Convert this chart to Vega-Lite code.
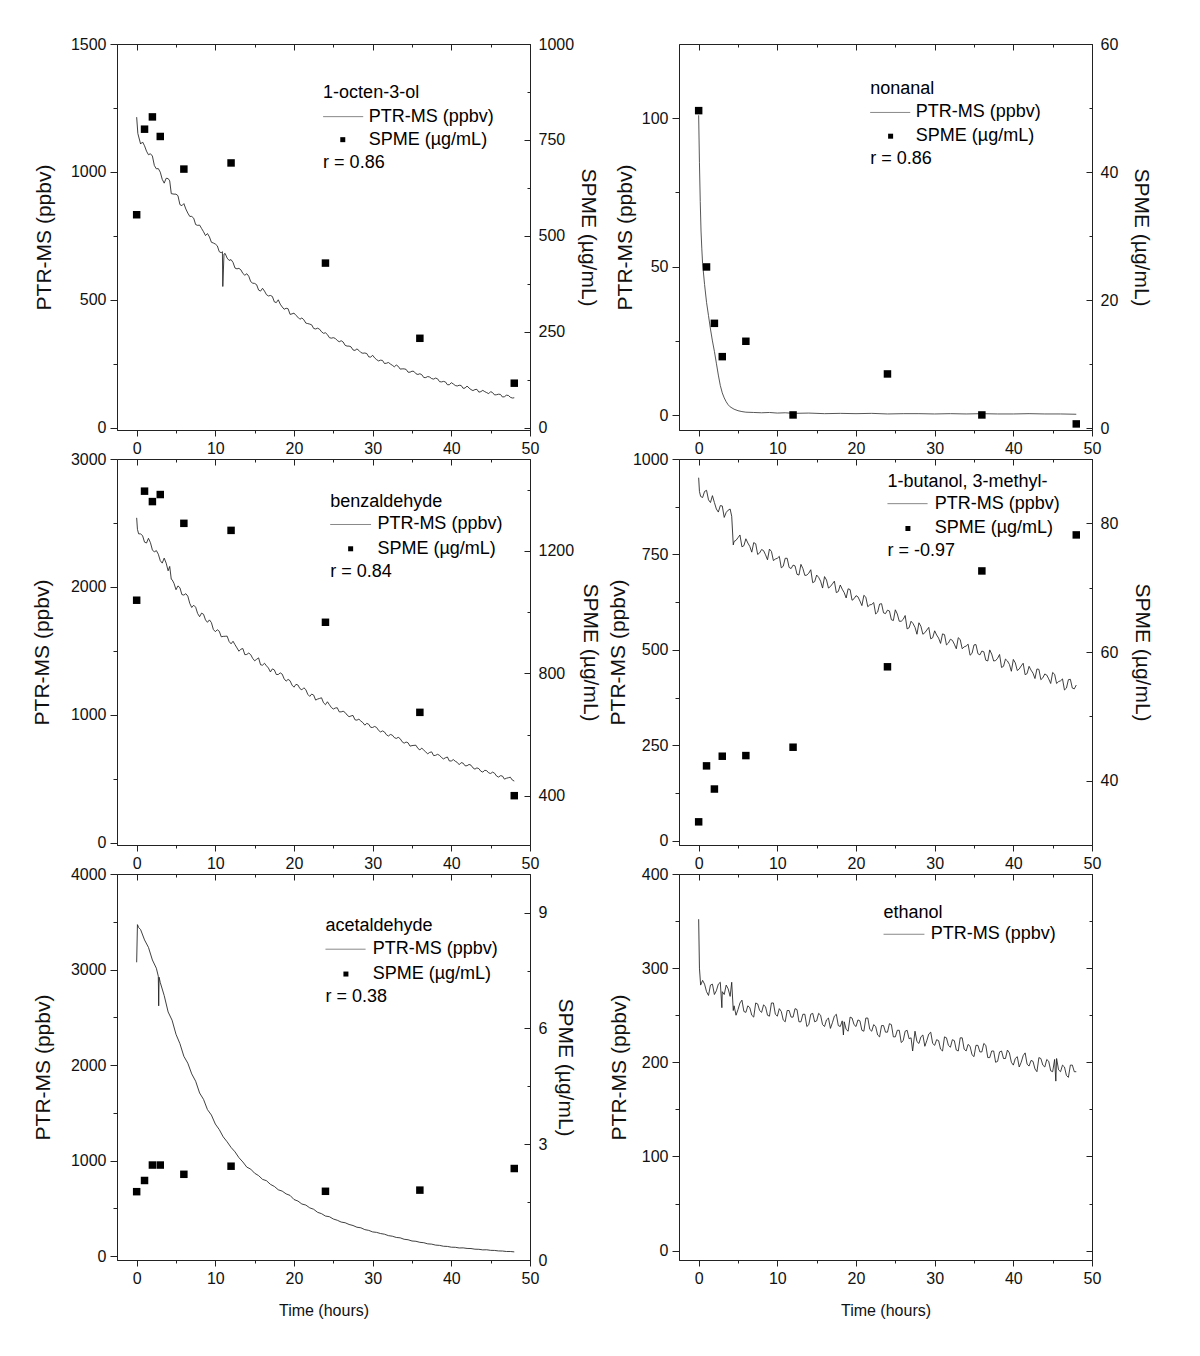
{
"$schema":"https://vega.github.io/schema/vega-lite/v6.json",
"background":"white",
"padding":{"left":30,"top":35,"right":5,"bottom":5},
"config":{
 "font":"Liberation Sans",
 "view":{"stroke":"#222","strokeWidth":1},
 "axis":{"grid":false,"domainColor":"#222","tickColor":"#222","labelColor":"#111","titleColor":"#111","labelFont":"Liberation Sans","titleFont":"Liberation Sans","labelFontSize":16,"titleFontSize":21,"titleFontWeight":"normal","labelFlush":false,"labelOverlap":false,"domainWidth":1,"tickWidth":1}
},
"datasets":{
"oct":[{"t":0,"v":1214},{"t":0.15,"v":1150},{"t":0.5,"v":1109},{"t":1,"v":1102},{"t":1.5,"v":1067},{"t":2,"v":1062},{"t":2.5,"v":1012},{"t":3,"v":999},{"t":3.5,"v":956},{"t":4,"v":974},{"t":4.2,"v":965},{"t":4.4,"v":915},{"t":5,"v":913},{"t":5.5,"v":872},{"t":6,"v":876},{"t":6.5,"v":839},{"t":7,"v":826},{"t":7.5,"v":794},{"t":8,"v":792},{"t":8.5,"v":766},{"t":9,"v":759},{"t":9.5,"v":725},{"t":10,"v":718},{"t":10.5,"v":688},{"t":10.9,"v":688},{"t":10.95,"v":552},{"t":11.1,"v":679},{"t":11.5,"v":663},{"t":12,"v":657},{"t":12.5,"v":624},{"t":13,"v":623},{"t":13.5,"v":603},{"t":14,"v":602},{"t":14.5,"v":571},{"t":15,"v":564},{"t":15.5,"v":538},{"t":16,"v":545},{"t":16.5,"v":520},{"t":17,"v":517},{"t":17.5,"v":492},{"t":18,"v":500},{"t":18.5,"v":472},{"t":19,"v":467},{"t":19.5,"v":443},{"t":20,"v":448},{"t":20.5,"v":432},{"t":21,"v":429},{"t":21.5,"v":409},{"t":22,"v":405},{"t":22.5,"v":388},{"t":23,"v":389},{"t":23.5,"v":375},{"t":24,"v":371},{"t":24.5,"v":352},{"t":25,"v":352},{"t":25.5,"v":341},{"t":26,"v":340},{"t":26.5,"v":322},{"t":27,"v":319},{"t":27.5,"v":304},{"t":28,"v":308},{"t":28.5,"v":294},{"t":29,"v":292},{"t":29.5,"v":277},{"t":30,"v":283},{"t":30.5,"v":266},{"t":31,"v":264},{"t":31.5,"v":251},{"t":32,"v":255},{"t":32.5,"v":244},{"t":33,"v":245},{"t":33.5,"v":229},{"t":34,"v":230},{"t":34.5,"v":217},{"t":35,"v":221},{"t":35.5,"v":211},{"t":36,"v":211},{"t":36.5,"v":196},{"t":37,"v":200},{"t":37.5,"v":192},{"t":38,"v":194},{"t":38.5,"v":180},{"t":39,"v":181},{"t":39.5,"v":168},{"t":40,"v":176},{"t":40.5,"v":165},{"t":41,"v":166},{"t":41.5,"v":154},{"t":42,"v":163},{"t":42.5,"v":149},{"t":43,"v":149},{"t":43.5,"v":139},{"t":44,"v":146},{"t":44.5,"v":137},{"t":45,"v":141},{"t":45.5,"v":128},{"t":46,"v":131},{"t":46.5,"v":120},{"t":47,"v":127},{"t":47.5,"v":119},{"t":48,"v":117},
{"t":0.75,"v":1117},{"t":1.25,"v":1081},{"t":1.75,"v":1071},{"t":2.25,"v":1025},{"t":2.75,"v":1013},{"t":3.25,"v":971},{"t":3.75,"v":975},{"t":4.75,"v":913},{"t":5.25,"v":907},{"t":5.75,"v":868},{"t":6.25,"v":855},{"t":6.75,"v":826},{"t":7.25,"v":819},{"t":7.75,"v":791},{"t":8.25,"v":779},{"t":8.75,"v":751},{"t":9.25,"v":746},{"t":9.75,"v":722},{"t":10.25,"v":711},{"t":10.75,"v":684},{"t":11.25,"v":681},{"t":11.75,"v":654},{"t":12.25,"v":646},{"t":12.75,"v":621},{"t":13.25,"v":617},{"t":13.75,"v":596},{"t":14.25,"v":592},{"t":14.75,"v":565},{"t":15.25,"v":559},{"t":15.75,"v":534},{"t":16.25,"v":534},{"t":16.75,"v":515},{"t":17.25,"v":513},{"t":17.75,"v":489},{"t":18.25,"v":483},{"t":18.75,"v":463},{"t":19.25,"v":465},{"t":19.75,"v":445},{"t":20.25,"v":439},{"t":20.75,"v":424},{"t":21.25,"v":422},{"t":21.75,"v":407},{"t":22.25,"v":402},{"t":22.75,"v":386},{"t":23.25,"v":385},{"t":23.75,"v":369},{"t":24.25,"v":364},{"t":24.75,"v":350},{"t":25.25,"v":349},{"t":25.75,"v":336},{"t":26.25,"v":335},{"t":26.75,"v":319},{"t":27.25,"v":316},{"t":27.75,"v":302},{"t":28.25,"v":302},{"t":28.75,"v":291},{"t":29.25,"v":290},{"t":29.75,"v":276},{"t":30.25,"v":273},{"t":30.75,"v":261},{"t":31.25,"v":263},{"t":31.75,"v":252},{"t":32.25,"v":249},{"t":32.75,"v":238},{"t":33.25,"v":240},{"t":33.75,"v":230},{"t":34.25,"v":228},{"t":34.75,"v":217},{"t":35.25,"v":220},{"t":35.75,"v":208},{"t":36.25,"v":207},{"t":36.75,"v":196},{"t":37.25,"v":198},{"t":37.75,"v":190},{"t":38.25,"v":191},{"t":38.75,"v":179},{"t":39.25,"v":179},{"t":39.75,"v":168},{"t":40.25,"v":171},{"t":40.75,"v":163},{"t":41.25,"v":165},{"t":41.75,"v":155},{"t":42.25,"v":155},{"t":42.75,"v":145},{"t":43.25,"v":150},{"t":43.75,"v":141},{"t":44.25,"v":141},{"t":44.75,"v":133},{"t":45.25,"v":137},{"t":45.75,"v":129},{"t":46.25,"v":130},{"t":46.75,"v":121},{"t":47.25,"v":126},{"t":47.75,"v":116}],
"oct_s":[{"t":0,"s":555},{"t":1,"s":778},{"t":2,"s":810},{"t":3,"s":759},{"t":6,"s":674},{"t":12,"s":690},{"t":24,"s":429},{"t":36,"s":233},{"t":48,"s":116}],
"non":[{"t":0,"v":101},{"t":0.1,"v":85},{"t":0.2,"v":72},{"t":0.3,"v":62},{"t":0.4,"v":56},{"t":0.5,"v":51},{"t":0.75,"v":44},{"t":1,"v":38},{"t":1.25,"v":33.5},{"t":1.5,"v":29},{"t":1.75,"v":25},{"t":2,"v":21.5},{"t":2.25,"v":17.5},{"t":2.5,"v":13.5},{"t":2.75,"v":10},{"t":3,"v":7.5},{"t":3.25,"v":5.8},{"t":3.5,"v":4.5},{"t":3.75,"v":3.5},{"t":4,"v":2.8},{"t":4.5,"v":2.0},{"t":5,"v":1.5},{"t":5.5,"v":1.2},{"t":6,"v":1.0},{"t":7,"v":0.9},{"t":8,"v":0.8},{"t":9,"v":0.9},{"t":10,"v":0.7},{"t":11,"v":0.8},{"t":12,"v":0.6},{"t":14,"v":0.7},{"t":16,"v":0.5},{"t":18,"v":0.6},{"t":20,"v":0.5},{"t":22,"v":0.6},{"t":24,"v":0.4},{"t":26,"v":0.5},{"t":28,"v":0.5},{"t":30,"v":0.4},{"t":32,"v":0.5},{"t":34,"v":0.4},{"t":36,"v":0.5},{"t":38,"v":0.4},{"t":40,"v":0.4},{"t":42,"v":0.5},{"t":44,"v":0.4},{"t":46,"v":0.4},{"t":48,"v":0.3}],
"non_s":[{"t":0,"s":49.6},{"t":1,"s":25.2},{"t":2,"s":16.4},{"t":3,"s":11.2},{"t":6,"s":13.6},{"t":12,"s":2.1},{"t":24,"s":8.5},{"t":36,"s":2.1},{"t":48,"s":0.7}],
"ben":[{"t":0,"v":2540},{"t":0.1,"v":2450},{"t":0.5,"v":2414},{"t":1,"v":2350},{"t":1.5,"v":2380},{"t":2,"v":2289},{"t":2.5,"v":2284},{"t":3,"v":2205},{"t":3.5,"v":2225},{"t":4,"v":2126},{"t":4.2,"v":2160},{"t":4.4,"v":2060},{"t":4.5,"v":2057},{"t":5,"v":1978},{"t":5.5,"v":1993},{"t":6,"v":1936},{"t":6.5,"v":1928},{"t":7,"v":1839},{"t":7.5,"v":1841},{"t":8,"v":1767},{"t":8.5,"v":1786},{"t":9,"v":1723},{"t":9.5,"v":1721},{"t":10,"v":1650},{"t":10.5,"v":1653},{"t":11,"v":1613},{"t":11.5,"v":1615},{"t":12,"v":1555},{"t":12.5,"v":1548},{"t":13,"v":1497},{"t":13.5,"v":1518},{"t":14,"v":1472},{"t":14.5,"v":1470},{"t":15,"v":1422},{"t":15.5,"v":1445},{"t":16,"v":1388},{"t":16.5,"v":1383},{"t":17,"v":1335},{"t":17.5,"v":1351},{"t":18,"v":1315},{"t":18.5,"v":1318},{"t":19,"v":1263},{"t":19.5,"v":1266},{"t":20,"v":1216},{"t":20.5,"v":1233},{"t":21,"v":1195},{"t":21.5,"v":1197},{"t":22,"v":1144},{"t":22.5,"v":1154},{"t":23,"v":1123},{"t":23.5,"v":1133},{"t":24,"v":1079},{"t":24.5,"v":1079},{"t":25,"v":1045},{"t":25.5,"v":1055},{"t":26,"v":1023},{"t":26.5,"v":1018},{"t":27,"v":985},{"t":27.5,"v":995},{"t":28,"v":958},{"t":28.5,"v":951},{"t":29,"v":919},{"t":29.5,"v":926},{"t":30,"v":901},{"t":30.5,"v":901},{"t":31,"v":866},{"t":31.5,"v":866},{"t":32,"v":834},{"t":32.5,"v":841},{"t":33,"v":815},{"t":33.5,"v":813},{"t":34,"v":778},{"t":34.5,"v":781},{"t":35,"v":759},{"t":35.5,"v":762},{"t":36,"v":726},{"t":36.5,"v":724},{"t":37,"v":695},{"t":37.5,"v":710},{"t":38,"v":683},{"t":38.5,"v":683},{"t":39,"v":655},{"t":39.5,"v":670},{"t":40,"v":639},{"t":40.5,"v":637},{"t":41,"v":610},{"t":41.5,"v":622},{"t":42,"v":602},{"t":42.5,"v":606},{"t":43,"v":575},{"t":43.5,"v":579},{"t":44,"v":552},{"t":44.5,"v":563},{"t":45,"v":541},{"t":45.5,"v":543},{"t":46,"v":513},{"t":46.5,"v":521},{"t":47,"v":504},{"t":47.5,"v":512},{"t":48,"v":482},
{"t":0.25,"v":2415},{"t":0.75,"v":2401},{"t":1.25,"v":2343},{"t":1.75,"v":2346},{"t":2.25,"v":2273},{"t":2.75,"v":2256},{"t":3.25,"v":2186},{"t":3.75,"v":2186},{"t":4.75,"v":2027},{"t":5.25,"v":2008},{"t":5.75,"v":1940},{"t":6.25,"v":1947},{"t":6.75,"v":1871},{"t":7.25,"v":1857},{"t":7.75,"v":1792},{"t":8.25,"v":1795},{"t":8.75,"v":1742},{"t":9.25,"v":1742},{"t":9.75,"v":1667},{"t":10.25,"v":1665},{"t":10.75,"v":1610},{"t":11.25,"v":1614},{"t":11.75,"v":1573},{"t":12.25,"v":1575},{"t":12.75,"v":1523},{"t":13.25,"v":1513},{"t":13.75,"v":1470},{"t":14.25,"v":1483},{"t":14.75,"v":1441},{"t":15.25,"v":1434},{"t":15.75,"v":1391},{"t":16.25,"v":1403},{"t":16.75,"v":1366},{"t":17.25,"v":1359},{"t":17.75,"v":1315},{"t":18.25,"v":1328},{"t":18.75,"v":1281},{"t":19.25,"v":1277},{"t":19.75,"v":1232},{"t":20.25,"v":1238},{"t":20.75,"v":1205},{"t":21.25,"v":1211},{"t":21.75,"v":1160},{"t":22.25,"v":1162},{"t":22.75,"v":1115},{"t":23.25,"v":1128},{"t":23.75,"v":1094},{"t":24.25,"v":1102},{"t":24.75,"v":1057},{"t":25.25,"v":1053},{"t":25.75,"v":1023},{"t":26.25,"v":1028},{"t":26.75,"v":998},{"t":27.25,"v":991},{"t":27.75,"v":961},{"t":28.25,"v":966},{"t":28.75,"v":939},{"t":29.25,"v":933},{"t":29.75,"v":902},{"t":30.25,"v":909},{"t":30.75,"v":878},{"t":31.25,"v":874},{"t":31.75,"v":844},{"t":32.25,"v":846},{"t":32.75,"v":822},{"t":33.25,"v":824},{"t":33.75,"v":789},{"t":34.25,"v":787},{"t":34.75,"v":755},{"t":35.25,"v":761},{"t":35.75,"v":737},{"t":36.25,"v":739},{"t":36.75,"v":709},{"t":37.25,"v":706},{"t":37.75,"v":681},{"t":38.25,"v":691},{"t":38.75,"v":666},{"t":39.25,"v":664},{"t":39.75,"v":639},{"t":40.25,"v":650},{"t":40.75,"v":628},{"t":41.25,"v":626},{"t":41.75,"v":601},{"t":42.25,"v":612},{"t":42.75,"v":585},{"t":43.25,"v":585},{"t":43.75,"v":559},{"t":44.25,"v":566},{"t":44.75,"v":546},{"t":45.25,"v":552},{"t":45.75,"v":521},{"t":46.25,"v":524},{"t":46.75,"v":497},{"t":47.25,"v":508},{"t":47.75,"v":490}],
"ben_s":[{"t":0,"s":1039},{"t":1,"s":1395},{"t":2,"s":1361},{"t":3,"s":1384},{"t":6,"s":1290},{"t":12,"s":1267},{"t":24,"s":967},{"t":36,"s":673},{"t":48,"s":401}],
"but":[{"t":0,"v":951},{"t":0.1,"v":915},{"t":0.5,"v":899},{"t":1,"v":918},{"t":1.5,"v":886},{"t":2,"v":886},{"t":2.5,"v":861},{"t":3,"v":877},{"t":3.5,"v":860},{"t":4,"v":869},{"t":4.2,"v":850},{"t":4.4,"v":775},{"t":4.5,"v":784},{"t":5,"v":794},{"t":5.5,"v":770},{"t":6,"v":791},{"t":6.5,"v":771},{"t":7,"v":781},{"t":7.5,"v":750},{"t":8,"v":763},{"t":8.5,"v":749},{"t":9,"v":764},{"t":9.5,"v":734},{"t":10,"v":740},{"t":10.5,"v":715},{"t":11,"v":740},{"t":11.5,"v":716},{"t":12,"v":722},{"t":12.5,"v":698},{"t":13,"v":724},{"t":13.5,"v":695},{"t":14,"v":701},{"t":14.5,"v":676},{"t":15,"v":696},{"t":15.5,"v":680},{"t":16,"v":692},{"t":16.5,"v":662},{"t":17,"v":673},{"t":17.5,"v":650},{"t":18,"v":670},{"t":18.5,"v":650},{"t":19,"v":660},{"t":19.5,"v":630},{"t":20,"v":642},{"t":20.5,"v":628},{"t":21,"v":643},{"t":21.5,"v":613},{"t":22,"v":619},{"t":22.5,"v":594},{"t":23,"v":620},{"t":23.5,"v":597},{"t":24,"v":604},{"t":24.5,"v":579},{"t":25,"v":605},{"t":25.5,"v":575},{"t":26,"v":580},{"t":26.5,"v":555},{"t":27,"v":575},{"t":27.5,"v":559},{"t":28,"v":571},{"t":28.5,"v":541},{"t":29,"v":552},{"t":29.5,"v":529},{"t":30,"v":550},{"t":30.5,"v":531},{"t":31,"v":542},{"t":31.5,"v":513},{"t":32,"v":528},{"t":32.5,"v":515},{"t":33,"v":532},{"t":33.5,"v":503},{"t":34,"v":510},{"t":34.5,"v":486},{"t":35,"v":513},{"t":35.5,"v":490},{"t":36,"v":497},{"t":36.5,"v":473},{"t":37,"v":500},{"t":37.5,"v":471},{"t":38,"v":478},{"t":38.5,"v":454},{"t":39,"v":476},{"t":39.5,"v":462},{"t":40,"v":475},{"t":40.5,"v":446},{"t":41,"v":458},{"t":41.5,"v":435},{"t":42,"v":457},{"t":42.5,"v":439},{"t":43,"v":450},{"t":43.5,"v":422},{"t":44,"v":437},{"t":44.5,"v":424},{"t":45,"v":441},{"t":45.5,"v":412},{"t":46,"v":419},{"t":46.5,"v":395},{"t":47,"v":422},{"t":47.5,"v":400},{"t":48,"v":408},
{"t":0.25,"v":902},{"t":0.75,"v":915},{"t":1.25,"v":893},{"t":1.75,"v":904},{"t":2.25,"v":869},{"t":2.75,"v":878},{"t":3.25,"v":847},{"t":3.75,"v":866},{"t":4.75,"v":787},{"t":5.25,"v":801},{"t":5.75,"v":773},{"t":6.25,"v":780},{"t":6.75,"v":756},{"t":7.25,"v":778},{"t":7.75,"v":754},{"t":8.25,"v":760},{"t":8.75,"v":736},{"t":9.25,"v":758},{"t":9.75,"v":738},{"t":10.25,"v":745},{"t":10.75,"v":719},{"t":11.25,"v":740},{"t":11.75,"v":713},{"t":12.25,"v":720},{"t":12.75,"v":696},{"t":13.25,"v":713},{"t":13.75,"v":696},{"t":14.25,"v":710},{"t":14.75,"v":679},{"t":15.25,"v":690},{"t":15.75,"v":662},{"t":16.25,"v":683},{"t":16.75,"v":666},{"t":17.25,"v":680},{"t":17.75,"v":653},{"t":18.25,"v":659},{"t":18.75,"v":636},{"t":19.25,"v":658},{"t":19.75,"v":634},{"t":20.25,"v":639},{"t":20.75,"v":616},{"t":21.25,"v":638},{"t":21.75,"v":618},{"t":22.25,"v":624},{"t":22.75,"v":599},{"t":23.25,"v":621},{"t":23.75,"v":595},{"t":24.25,"v":602},{"t":24.75,"v":577},{"t":25.25,"v":594},{"t":25.75,"v":575},{"t":26.25,"v":590},{"t":26.75,"v":558},{"t":27.25,"v":569},{"t":27.75,"v":541},{"t":28.25,"v":562},{"t":28.75,"v":545},{"t":29.25,"v":559},{"t":29.75,"v":532},{"t":30.25,"v":539},{"t":30.75,"v":517},{"t":31.25,"v":540},{"t":31.75,"v":518},{"t":32.25,"v":525},{"t":32.75,"v":503},{"t":33.25,"v":527},{"t":33.75,"v":508},{"t":34.25,"v":515},{"t":34.75,"v":491},{"t":35.25,"v":514},{"t":35.75,"v":487},{"t":36.25,"v":495},{"t":36.75,"v":471},{"t":37.25,"v":489},{"t":37.75,"v":472},{"t":38.25,"v":488},{"t":38.75,"v":457},{"t":39.25,"v":471},{"t":39.75,"v":444},{"t":40.25,"v":466},{"t":40.75,"v":450},{"t":41.25,"v":465},{"t":41.75,"v":438},{"t":42.25,"v":447},{"t":42.75,"v":425},{"t":43.25,"v":449},{"t":43.75,"v":427},{"t":44.25,"v":434},{"t":44.75,"v":412},{"t":45.25,"v":436},{"t":45.75,"v":417},{"t":46.25,"v":424},{"t":46.75,"v":400},{"t":47.25,"v":423},{"t":47.75,"v":398}],
"but_s":[{"t":0,"s":33.6},{"t":1,"s":42.3},{"t":2,"s":38.7},{"t":3,"s":43.8},{"t":6,"s":43.9},{"t":12,"s":45.2},{"t":24,"s":57.7},{"t":36,"s":72.6},{"t":48,"s":78.2}],
"ace":[{"t":0,"v":3076},{"t":0.1,"v":3470},{"t":0.25,"v":3440},{"t":0.5,"v":3418},{"t":1,"v":3310},{"t":1.5,"v":3232},{"t":2,"v":3100},{"t":2.5,"v":3014},{"t":2.75,"v":2930},{"t":2.8,"v":2620},{"t":2.85,"v":2920},{"t":3,"v":2864},{"t":3.5,"v":2728},{"t":4,"v":2556},{"t":4.5,"v":2470},{"t":5,"v":2322},{"t":5.5,"v":2224},{"t":6,"v":2092},{"t":6.5,"v":2020},{"t":7,"v":1908},{"t":7.5,"v":1831},{"t":8,"v":1708},{"t":8.5,"v":1641},{"t":9,"v":1534},{"t":9.5,"v":1477},{"t":10,"v":1383},{"t":10.5,"v":1325},{"t":11,"v":1249},{"t":11.5,"v":1197},{"t":12,"v":1138},{"t":12.5,"v":1092},{"t":13,"v":1031},{"t":13.5,"v":986},{"t":14,"v":932},{"t":14.5,"v":911},{"t":15,"v":868},{"t":15.5,"v":843},{"t":16,"v":804},{"t":16.5,"v":790},{"t":17,"v":752},{"t":17.5,"v":730},{"t":18,"v":695},{"t":18.5,"v":681},{"t":19,"v":652},{"t":19.5,"v":636},{"t":20,"v":593},{"t":20.5,"v":577},{"t":21,"v":546},{"t":21.5,"v":535},{"t":22,"v":506},{"t":22.5,"v":491},{"t":23,"v":459},{"t":23.5,"v":445},{"t":24,"v":420},{"t":24.5,"v":413},{"t":25,"v":389},{"t":25.5,"v":376},{"t":26,"v":357},{"t":26.5,"v":350},{"t":27,"v":332},{"t":27.5,"v":321},{"t":28,"v":303},{"t":28.5,"v":297},{"t":29,"v":278},{"t":29.5,"v":270},{"t":30,"v":254},{"t":30.5,"v":249},{"t":31,"v":237},{"t":31.5,"v":230},{"t":32,"v":215},{"t":32.5,"v":209},{"t":33,"v":196},{"t":33.5,"v":192},{"t":34,"v":177},{"t":34.5,"v":172},{"t":35,"v":159},{"t":35.5,"v":156},{"t":36,"v":145},{"t":36.5,"v":141},{"t":37,"v":129},{"t":37.5,"v":126},{"t":38,"v":116},{"t":38.5,"v":113},{"t":39,"v":104},{"t":39.5,"v":102},{"t":40,"v":94},{"t":40.5,"v":93},{"t":41,"v":86},{"t":41.5,"v":87},{"t":42,"v":81},{"t":42.5,"v":80},{"t":43,"v":73},{"t":43.5,"v":72},{"t":44,"v":66},{"t":44.5,"v":67},{"t":45,"v":61},{"t":45.5,"v":60},{"t":46,"v":55},{"t":46.5,"v":54},{"t":47,"v":49},{"t":47.5,"v":49},{"t":48,"v":45}],
"ace_s":[{"t":0,"s":1.77},{"t":1,"s":2.06},{"t":2,"s":2.46},{"t":3,"s":2.46},{"t":6,"s":2.22},{"t":12,"s":2.43},{"t":24,"s":1.78},{"t":36,"s":1.81},{"t":48,"s":2.37}],
"eth":[{"t":0,"v":352},{"t":0.1,"v":300},{"t":0.25,"v":282},{"t":0.5,"v":287},{"t":1,"v":275},{"t":1.5,"v":282},{"t":2,"v":272},{"t":2.5,"v":283},{"t":2.95,"v":258},{"t":3,"v":275},{"t":3.5,"v":282},{"t":4,"v":270},{"t":4.2,"v":285},{"t":4.4,"v":255},{"t":4.5,"v":260},{"t":5,"v":256},{"t":5.5,"v":266},{"t":6,"v":253},{"t":6.5,"v":258},{"t":7,"v":248},{"t":7.5,"v":262},{"t":8,"v":253},{"t":8.5,"v":259},{"t":9,"v":249},{"t":9.5,"v":263},{"t":10,"v":249},{"t":10.5,"v":254},{"t":11,"v":243},{"t":11.5,"v":255},{"t":12,"v":248},{"t":12.5,"v":256},{"t":13,"v":243},{"t":13.5,"v":251},{"t":14,"v":240},{"t":14.5,"v":252},{"t":15,"v":244},{"t":15.5,"v":250},{"t":16,"v":238},{"t":16.5,"v":247},{"t":17,"v":242},{"t":17.5,"v":251},{"t":18,"v":238},{"t":18.4,"v":229},{"t":18.5,"v":243},{"t":19,"v":233},{"t":19.5,"v":247},{"t":20,"v":238},{"t":20.5,"v":244},{"t":21,"v":233},{"t":21.5,"v":247},{"t":22,"v":233},{"t":22.5,"v":238},{"t":23,"v":227},{"t":23.5,"v":239},{"t":24,"v":232},{"t":24.5,"v":240},{"t":25,"v":227},{"t":25.5,"v":234},{"t":26,"v":223},{"t":26.5,"v":234},{"t":27,"v":226},{"t":27.2,"v":212},{"t":27.5,"v":233},{"t":28,"v":220},{"t":28.5,"v":229},{"t":29,"v":223},{"t":29.5,"v":232},{"t":30,"v":218},{"t":30.5,"v":223},{"t":31,"v":212},{"t":31.5,"v":226},{"t":32,"v":216},{"t":32.5,"v":223},{"t":33,"v":212},{"t":33.5,"v":226},{"t":34,"v":212},{"t":34.5,"v":217},{"t":35,"v":206},{"t":35.5,"v":218},{"t":36,"v":211},{"t":36.5,"v":218},{"t":37,"v":205},{"t":37.5,"v":212},{"t":38,"v":201},{"t":38.5,"v":212},{"t":39,"v":204},{"t":39.5,"v":210},{"t":40,"v":197},{"t":40.5,"v":206},{"t":41,"v":200},{"t":41.5,"v":210},{"t":42,"v":196},{"t":42.5,"v":201},{"t":43,"v":190},{"t":43.5,"v":204},{"t":44,"v":195},{"t":44.5,"v":201},{"t":45,"v":190},{"t":45.4,"v":180},{"t":45.5,"v":204},{"t":46,"v":190},{"t":46.5,"v":195},{"t":47,"v":184},{"t":47.5,"v":197},{"t":48,"v":190},
{"t":0.75,"v":283},{"t":1.25,"v":271},{"t":1.75,"v":283},{"t":2.25,"v":276},{"t":2.75,"v":285},{"t":3.25,"v":272},{"t":3.75,"v":278},{"t":4.75,"v":250},{"t":5.25,"v":263},{"t":5.75,"v":254},{"t":6.25,"v":260},{"t":6.75,"v":250},{"t":7.25,"v":263},{"t":7.75,"v":255},{"t":8.25,"v":261},{"t":8.75,"v":250},{"t":9.25,"v":263},{"t":9.75,"v":251},{"t":10.25,"v":257},{"t":10.75,"v":245},{"t":11.25,"v":255},{"t":11.75,"v":248},{"t":12.25,"v":257},{"t":12.75,"v":243},{"t":13.25,"v":251},{"t":13.75,"v":238},{"t":14.25,"v":251},{"t":14.75,"v":243},{"t":15.25,"v":252},{"t":15.75,"v":240},{"t":16.25,"v":245},{"t":16.75,"v":236},{"t":17.25,"v":249},{"t":17.75,"v":239},{"t":18.25,"v":244},{"t":18.75,"v":235},{"t":19.25,"v":248},{"t":19.75,"v":240},{"t":20.25,"v":245},{"t":20.75,"v":234},{"t":21.25,"v":247},{"t":21.75,"v":235},{"t":22.25,"v":240},{"t":22.75,"v":229},{"t":23.25,"v":239},{"t":23.75,"v":232},{"t":24.25,"v":241},{"t":24.75,"v":227},{"t":25.25,"v":234},{"t":25.75,"v":221},{"t":26.25,"v":233},{"t":26.75,"v":225},{"t":27.75,"v":222},{"t":28.25,"v":227},{"t":28.75,"v":217},{"t":29.25,"v":230},{"t":29.75,"v":220},{"t":30.25,"v":224},{"t":30.75,"v":214},{"t":31.25,"v":227},{"t":31.75,"v":218},{"t":32.25,"v":224},{"t":32.75,"v":213},{"t":33.25,"v":226},{"t":33.75,"v":214},{"t":34.25,"v":219},{"t":34.75,"v":208},{"t":35.25,"v":218},{"t":35.75,"v":211},{"t":36.25,"v":220},{"t":36.75,"v":205},{"t":37.25,"v":212},{"t":37.75,"v":200},{"t":38.25,"v":211},{"t":38.75,"v":204},{"t":39.25,"v":213},{"t":39.75,"v":200},{"t":40.25,"v":204},{"t":40.75,"v":195},{"t":41.25,"v":207},{"t":41.75,"v":198},{"t":42.25,"v":202},{"t":42.75,"v":193},{"t":43.25,"v":205},{"t":43.75,"v":197},{"t":44.25,"v":203},{"t":44.75,"v":191},{"t":45.25,"v":203},{"t":45.75,"v":192},{"t":46.25,"v":197},{"t":46.75,"v":186},{"t":47.25,"v":197},{"t":47.75,"v":190}]
},
"columns":2,
"spacing":{"row":29,"column":149},
"bounds":"flush",
"concat":[
 {"width":413,"height":386,
  "layer":[
   {"data":{"name":"oct"},"mark":{"type":"line","color":"#1e1e1e","strokeWidth":0.85},
    "encoding":{
     "x":{"field":"t","type":"quantitative","scale":{"domain":[-2.5,50],"nice":false,"zero":false},"axis":{"orient":"bottom","values":[0,5,10,15,20,25,30,35,40,45,50],"labelExpr":"datum.value % 10 === 0 ? datum.label : ''","tickSize":6,"tickDash":{"condition":{"test":"datum.value % 10 === 0","value":[6,0]},"value":[3,10]},"labelPadding":4,"title":null,"format":"d"}},
     "y":{"field":"v","type":"quantitative","scale":{"domain":[-9,1500],"nice":false,"zero":false},"axis":{"orient":"left","values":[0,250,500,750,1000,1250,1500],"labelExpr":"datum.value % 500 === 0 ? datum.label : ''","tickSize":7,"tickDash":{"condition":{"test":"datum.value % 500 === 0","value":[7,0]},"value":[4,10]},"labelPadding":4,"title":"PTR-MS (ppbv)","titlePadding":16,"format":"d"}}}},
   {"data":{"name":"oct_s"},"mark":{"type":"square","size":56,"color":"#000","opacity":1},
    "encoding":{
     "x":{"field":"t","type":"quantitative","axis":{"orient":"top","values":[0,5,10,15,20,25,30,35,40,45,50],"labels":false,"domain":false,"title":null,"tickSize":-6,"tickDash":{"condition":{"test":"datum.value % 10 === 0","value":[6,0]},"value":[3,10]}}},
     "y":{"field":"s","type":"quantitative","scale":{"domain":[-6,1000],"nice":false,"zero":false},"axis":{"orient":"right","values":[0,125,250,375,500,625,750,875,1000],"labelExpr":"datum.value % 250 === 0 ? datum.label : ''","tickSize":-6,"tickDash":{"condition":{"test":"datum.value % 250 === 0","value":[6,0]},"value":[3,10]},"labelPadding":14,"title":"SPME (µg/mL)","titlePadding":4,"format":"d"}}}},
   {"data":{"values":[{}]},"mark":{"type":"text","text":"1-octen-3-ol","align":"left","baseline":"middle","fontSize":18,"color":"#000"},"encoding":{"x":{"datum":23.7,"axis":null},"y":{"datum":1309,"axis":null,"scale":{"domain":[-9,1500],"nice":false,"zero":false}}}},
   {"data":{"values":[{}]},"mark":{"type":"rule","color":"#888","strokeWidth":1},"encoding":{"x":{"datum":23.7,"axis":null},"x2":{"datum":28.8},"y":{"datum":1216,"axis":null,"scale":{"domain":[-9,1500],"nice":false,"zero":false}}}},
   {"data":{"values":[{}]},"mark":{"type":"text","text":"PTR-MS (ppbv)","align":"left","baseline":"middle","fontSize":18,"color":"#000"},"encoding":{"x":{"datum":29.5,"axis":null},"y":{"datum":1216,"axis":null,"scale":{"domain":[-9,1500],"nice":false,"zero":false}}}},
   {"data":{"values":[{}]},"mark":{"type":"square","size":25,"color":"#000","opacity":1},"encoding":{"x":{"datum":26.2,"axis":null},"y":{"datum":1126,"axis":null,"scale":{"domain":[-9,1500],"nice":false,"zero":false}}}},
   {"data":{"values":[{}]},"mark":{"type":"text","text":"SPME (µg/mL)","align":"left","baseline":"middle","fontSize":18,"color":"#000"},"encoding":{"x":{"datum":29.5,"axis":null},"y":{"datum":1126,"axis":null,"scale":{"domain":[-9,1500],"nice":false,"zero":false}}}},
   {"data":{"values":[{}]},"mark":{"type":"text","text":"r = 0.86","align":"left","baseline":"middle","fontSize":18,"color":"#000"},"encoding":{"x":{"datum":23.7,"axis":null},"y":{"datum":1033,"axis":null,"scale":{"domain":[-9,1500],"nice":false,"zero":false}}}}
  ],
  "resolve":{"scale":{"y":"independent"},"axis":{"x":"independent"}}
 },
 {"width":413,"height":386,
  "layer":[
   {"data":{"name":"non"},"mark":{"type":"line","color":"#444","strokeWidth":0.9},
    "encoding":{
     "x":{"field":"t","type":"quantitative","scale":{"domain":[-2.5,50],"nice":false,"zero":false},"axis":{"orient":"bottom","values":[0,5,10,15,20,25,30,35,40,45,50],"labelExpr":"datum.value % 10 === 0 ? datum.label : ''","tickSize":6,"tickDash":{"condition":{"test":"datum.value % 10 === 0","value":[6,0]},"value":[3,10]},"labelPadding":4,"title":null,"format":"d"}},
     "y":{"field":"v","type":"quantitative","scale":{"domain":[-5,125],"nice":false,"zero":false},"axis":{"orient":"left","values":[0,25,50,75,100],"labelExpr":"datum.value % 50 === 0 ? datum.label : ''","tickSize":7,"tickDash":{"condition":{"test":"datum.value % 50 === 0","value":[7,0]},"value":[4,10]},"labelPadding":4,"title":"PTR-MS (ppbv)","titlePadding":6,"format":"d"}}}},
   {"data":{"name":"non_s"},"mark":{"type":"square","size":56,"color":"#000","opacity":1},
    "encoding":{
     "x":{"field":"t","type":"quantitative","axis":{"orient":"top","values":[0,5,10,15,20,25,30,35,40,45,50],"labels":false,"domain":false,"title":null,"tickSize":-6,"tickDash":{"condition":{"test":"datum.value % 10 === 0","value":[6,0]},"value":[3,10]}}},
     "y":{"field":"s","type":"quantitative","scale":{"domain":[-0.25,60],"nice":false,"zero":false},"axis":{"orient":"right","values":[0,10,20,30,40,50,60],"labelExpr":"datum.value % 20 === 0 ? datum.label : ''","tickSize":-6,"tickDash":{"condition":{"test":"datum.value % 20 === 0","value":[6,0]},"value":[3,10]},"labelPadding":14,"title":"SPME (µg/mL)","titlePadding":13,"format":"d"}}}},
   {"data":{"values":[{}]},"mark":{"type":"text","text":"nonanal","align":"left","baseline":"middle","fontSize":18,"color":"#000"},"encoding":{"x":{"datum":21.8,"axis":null},"y":{"datum":109.75,"axis":null,"scale":{"domain":[-5,125],"nice":false,"zero":false}}}},
   {"data":{"values":[{}]},"mark":{"type":"rule","color":"#888","strokeWidth":1},"encoding":{"x":{"datum":21.8,"axis":null},"x2":{"datum":26.9},"y":{"datum":101.95,"axis":null,"scale":{"domain":[-5,125],"nice":false,"zero":false}}}},
   {"data":{"values":[{}]},"mark":{"type":"text","text":"PTR-MS (ppbv)","align":"left","baseline":"middle","fontSize":18,"color":"#000"},"encoding":{"x":{"datum":27.6,"axis":null},"y":{"datum":101.95,"axis":null,"scale":{"domain":[-5,125],"nice":false,"zero":false}}}},
   {"data":{"values":[{}]},"mark":{"type":"square","size":25,"color":"#000","opacity":1},"encoding":{"x":{"datum":24.4,"axis":null},"y":{"datum":93.95,"axis":null,"scale":{"domain":[-5,125],"nice":false,"zero":false}}}},
   {"data":{"values":[{}]},"mark":{"type":"text","text":"SPME (µg/mL)","align":"left","baseline":"middle","fontSize":18,"color":"#000"},"encoding":{"x":{"datum":27.6,"axis":null},"y":{"datum":93.95,"axis":null,"scale":{"domain":[-5,125],"nice":false,"zero":false}}}},
   {"data":{"values":[{}]},"mark":{"type":"text","text":"r = 0.86","align":"left","baseline":"middle","fontSize":18,"color":"#000"},"encoding":{"x":{"datum":21.8,"axis":null},"y":{"datum":86.35,"axis":null,"scale":{"domain":[-5,125],"nice":false,"zero":false}}}}
  ],
  "resolve":{"scale":{"y":"independent"},"axis":{"x":"independent"}}
 },
 {"width":413,"height":386,
  "layer":[
   {"data":{"name":"ben"},"mark":{"type":"line","color":"#1e1e1e","strokeWidth":0.85},
    "encoding":{
     "x":{"field":"t","type":"quantitative","scale":{"domain":[-2.5,50],"nice":false,"zero":false},"axis":{"orient":"bottom","values":[0,5,10,15,20,25,30,35,40,45,50],"labelExpr":"datum.value % 10 === 0 ? datum.label : ''","tickSize":6,"tickDash":{"condition":{"test":"datum.value % 10 === 0","value":[6,0]},"value":[3,10]},"labelPadding":4,"title":null,"format":"d"}},
     "y":{"field":"v","type":"quantitative","scale":{"domain":[-18,3000],"nice":false,"zero":false},"axis":{"orient":"left","values":[0,500,1000,1500,2000,2500,3000],"labelExpr":"datum.value % 1000 === 0 ? datum.label : ''","tickSize":7,"tickDash":{"condition":{"test":"datum.value % 1000 === 0","value":[7,0]},"value":[4,10]},"labelPadding":4,"title":"PTR-MS (ppbv)","titlePadding":18,"format":"d"}}}},
   {"data":{"name":"ben_s"},"mark":{"type":"square","size":56,"color":"#000","opacity":1},
    "encoding":{
     "x":{"field":"t","type":"quantitative","axis":{"orient":"top","values":[0,5,10,15,20,25,30,35,40,45,50],"labels":false,"domain":false,"title":null,"tickSize":-6,"tickDash":{"condition":{"test":"datum.value % 10 === 0","value":[6,0]},"value":[3,10]}}},
     "y":{"field":"s","type":"quantitative","scale":{"domain":[240,1500],"nice":false,"zero":false},"axis":{"orient":"right","values":[400,600,800,1000,1200,1400],"labelExpr":"datum.value % 400 === 0 ? datum.label : ''","tickSize":-6,"tickDash":{"condition":{"test":"datum.value % 400 === 0","value":[6,0]},"value":[3,10]},"labelPadding":14,"title":"SPME (µg/mL)","titlePadding":6,"format":"d"}}}},
   {"data":{"values":[{}]},"mark":{"type":"text","text":"benzaldehyde","align":"left","baseline":"middle","fontSize":18,"color":"#000"},"encoding":{"x":{"datum":24.6,"axis":null},"y":{"datum":2666,"axis":null,"scale":{"domain":[-18,3000],"nice":false,"zero":false}}}},
   {"data":{"values":[{}]},"mark":{"type":"rule","color":"#888","strokeWidth":1},"encoding":{"x":{"datum":24.6,"axis":null},"x2":{"datum":29.8},"y":{"datum":2488,"axis":null,"scale":{"domain":[-18,3000],"nice":false,"zero":false}}}},
   {"data":{"values":[{}]},"mark":{"type":"text","text":"PTR-MS (ppbv)","align":"left","baseline":"middle","fontSize":18,"color":"#000"},"encoding":{"x":{"datum":30.6,"axis":null},"y":{"datum":2488,"axis":null,"scale":{"domain":[-18,3000],"nice":false,"zero":false}}}},
   {"data":{"values":[{}]},"mark":{"type":"square","size":25,"color":"#000","opacity":1},"encoding":{"x":{"datum":27.2,"axis":null},"y":{"datum":2298,"axis":null,"scale":{"domain":[-18,3000],"nice":false,"zero":false}}}},
   {"data":{"values":[{}]},"mark":{"type":"text","text":"SPME (µg/mL)","align":"left","baseline":"middle","fontSize":18,"color":"#000"},"encoding":{"x":{"datum":30.6,"axis":null},"y":{"datum":2298,"axis":null,"scale":{"domain":[-18,3000],"nice":false,"zero":false}}}},
   {"data":{"values":[{}]},"mark":{"type":"text","text":"r = 0.84","align":"left","baseline":"middle","fontSize":18,"color":"#000"},"encoding":{"x":{"datum":24.6,"axis":null},"y":{"datum":2115,"axis":null,"scale":{"domain":[-18,3000],"nice":false,"zero":false}}}}
  ],
  "resolve":{"scale":{"y":"independent"},"axis":{"x":"independent"}}
 },
 {"width":413,"height":386,
  "layer":[
   {"data":{"name":"but"},"mark":{"type":"line","color":"#1e1e1e","strokeWidth":0.85},
    "encoding":{
     "x":{"field":"t","type":"quantitative","scale":{"domain":[-2.5,50],"nice":false,"zero":false},"axis":{"orient":"bottom","values":[0,5,10,15,20,25,30,35,40,45,50],"labelExpr":"datum.value % 10 === 0 ? datum.label : ''","tickSize":6,"tickDash":{"condition":{"test":"datum.value % 10 === 0","value":[6,0]},"value":[3,10]},"labelPadding":4,"title":null,"format":"d"}},
     "y":{"field":"v","type":"quantitative","scale":{"domain":[-11,1000],"nice":false,"zero":false},"axis":{"orient":"left","values":[0,125,250,375,500,625,750,875,1000],"labelExpr":"datum.value % 250 === 0 ? datum.label : ''","tickSize":7,"tickDash":{"condition":{"test":"datum.value % 250 === 0","value":[7,0]},"value":[4,10]},"labelPadding":4,"title":"PTR-MS (ppbv)","titlePadding":4,"format":"d"}}}},
   {"data":{"name":"but_s"},"mark":{"type":"square","size":56,"color":"#000","opacity":1},
    "encoding":{
     "x":{"field":"t","type":"quantitative","axis":{"orient":"top","values":[0,5,10,15,20,25,30,35,40,45,50],"labels":false,"domain":false,"title":null,"tickSize":-6,"tickDash":{"condition":{"test":"datum.value % 10 === 0","value":[6,0]},"value":[3,10]}}},
     "y":{"field":"s","type":"quantitative","scale":{"domain":[30,90],"nice":false,"zero":false},"axis":{"orient":"right","values":[40,50,60,70,80,90],"labelExpr":"datum.value % 20 === 0 ? datum.label : ''","tickSize":-6,"tickDash":{"condition":{"test":"datum.value % 20 === 0","value":[6,0]},"value":[3,10]},"labelPadding":14,"title":"SPME (µg/mL)","titlePadding":14,"format":"d"}}}},
   {"data":{"values":[{}]},"mark":{"type":"text","text":"1-butanol, 3-methyl-","align":"left","baseline":"middle","fontSize":18,"color":"#000"},"encoding":{"x":{"datum":24.0,"axis":null},"y":{"datum":940,"axis":null,"scale":{"domain":[-11,1000],"nice":false,"zero":false}}}},
   {"data":{"values":[{}]},"mark":{"type":"rule","color":"#888","strokeWidth":1},"encoding":{"x":{"datum":24.0,"axis":null},"x2":{"datum":29.1},"y":{"datum":883,"axis":null,"scale":{"domain":[-11,1000],"nice":false,"zero":false}}}},
   {"data":{"values":[{}]},"mark":{"type":"text","text":"PTR-MS (ppbv)","align":"left","baseline":"middle","fontSize":18,"color":"#000"},"encoding":{"x":{"datum":30.0,"axis":null},"y":{"datum":883,"axis":null,"scale":{"domain":[-11,1000],"nice":false,"zero":false}}}},
   {"data":{"values":[{}]},"mark":{"type":"square","size":25,"color":"#000","opacity":1},"encoding":{"x":{"datum":26.6,"axis":null},"y":{"datum":818,"axis":null,"scale":{"domain":[-11,1000],"nice":false,"zero":false}}}},
   {"data":{"values":[{}]},"mark":{"type":"text","text":"SPME (µg/mL)","align":"left","baseline":"middle","fontSize":18,"color":"#000"},"encoding":{"x":{"datum":30.0,"axis":null},"y":{"datum":818,"axis":null,"scale":{"domain":[-11,1000],"nice":false,"zero":false}}}},
   {"data":{"values":[{}]},"mark":{"type":"text","text":"r = -0.97","align":"left","baseline":"middle","fontSize":18,"color":"#000"},"encoding":{"x":{"datum":24.0,"axis":null},"y":{"datum":760,"axis":null,"scale":{"domain":[-11,1000],"nice":false,"zero":false}}}}
  ],
  "resolve":{"scale":{"y":"independent"},"axis":{"x":"independent"}}
 },
 {"width":413,"height":386,
  "layer":[
   {"data":{"name":"ace"},"mark":{"type":"line","color":"#1e1e1e","strokeWidth":0.85},
    "encoding":{
     "x":{"field":"t","type":"quantitative","scale":{"domain":[-2.5,50],"nice":false,"zero":false},"axis":{"orient":"bottom","values":[0,5,10,15,20,25,30,35,40,45,50],"labelExpr":"datum.value % 10 === 0 ? datum.label : ''","tickSize":6,"tickDash":{"condition":{"test":"datum.value % 10 === 0","value":[6,0]},"value":[3,10]},"labelPadding":4,"title":"Time (hours)","titleFontSize":16,"titlePadding":16,"format":"d"}},
     "y":{"field":"v","type":"quantitative","scale":{"domain":[-40,4000],"nice":false,"zero":false},"axis":{"orient":"left","values":[0,500,1000,1500,2000,2500,3000,3500,4000],"labelExpr":"datum.value % 1000 === 0 ? datum.label : ''","tickSize":7,"tickDash":{"condition":{"test":"datum.value % 1000 === 0","value":[7,0]},"value":[4,10]},"labelPadding":4,"title":"PTR-MS (ppbv)","titlePadding":17,"format":"d"}}}},
   {"data":{"name":"ace_s"},"mark":{"type":"square","size":56,"color":"#000","opacity":1},
    "encoding":{
     "x":{"field":"t","type":"quantitative","axis":{"orient":"top","values":[0,5,10,15,20,25,30,35,40,45,50],"labels":false,"domain":false,"title":null,"tickSize":-6,"tickDash":{"condition":{"test":"datum.value % 10 === 0","value":[6,0]},"value":[3,10]}}},
     "y":{"field":"s","type":"quantitative","scale":{"domain":[0,10],"nice":false,"zero":false},"axis":{"orient":"right","values":[0,1.5,3,4.5,6,7.5,9],"labelExpr":"datum.value % 3 === 0 ? datum.label : ''","tickSize":-6,"tickDash":{"condition":{"test":"datum.value % 3 === 0","value":[6,0]},"value":[3,10]},"labelPadding":14,"title":"SPME (µg/mL)","titlePadding":8,"format":"d"}}}},
   {"data":{"values":[{}]},"mark":{"type":"text","text":"acetaldehyde","align":"left","baseline":"middle","fontSize":18,"color":"#000"},"encoding":{"x":{"datum":24.0,"axis":null},"y":{"datum":3452,"axis":null,"scale":{"domain":[-40,4000],"nice":false,"zero":false}}}},
   {"data":{"values":[{}]},"mark":{"type":"rule","color":"#888","strokeWidth":1},"encoding":{"x":{"datum":24.0,"axis":null},"x2":{"datum":29.1},"y":{"datum":3213,"axis":null,"scale":{"domain":[-40,4000],"nice":false,"zero":false}}}},
   {"data":{"values":[{}]},"mark":{"type":"text","text":"PTR-MS (ppbv)","align":"left","baseline":"middle","fontSize":18,"color":"#000"},"encoding":{"x":{"datum":30.0,"axis":null},"y":{"datum":3213,"axis":null,"scale":{"domain":[-40,4000],"nice":false,"zero":false}}}},
   {"data":{"values":[{}]},"mark":{"type":"square","size":25,"color":"#000","opacity":1},"encoding":{"x":{"datum":26.6,"axis":null},"y":{"datum":2953,"axis":null,"scale":{"domain":[-40,4000],"nice":false,"zero":false}}}},
   {"data":{"values":[{}]},"mark":{"type":"text","text":"SPME (µg/mL)","align":"left","baseline":"middle","fontSize":18,"color":"#000"},"encoding":{"x":{"datum":30.0,"axis":null},"y":{"datum":2953,"axis":null,"scale":{"domain":[-40,4000],"nice":false,"zero":false}}}},
   {"data":{"values":[{}]},"mark":{"type":"text","text":"r = 0.38","align":"left","baseline":"middle","fontSize":18,"color":"#000"},"encoding":{"x":{"datum":24.0,"axis":null},"y":{"datum":2717,"axis":null,"scale":{"domain":[-40,4000],"nice":false,"zero":false}}}}
  ],
  "resolve":{"scale":{"y":"independent"},"axis":{"x":"independent"}}
 },
 {"width":413,"height":386,
  "layer":[
   {"data":{"name":"eth"},"mark":{"type":"line","color":"#1e1e1e","strokeWidth":0.85},
    "encoding":{
     "x":{"field":"t","type":"quantitative","scale":{"domain":[-2.5,50],"nice":false,"zero":false},"axis":{"orient":"bottom","values":[0,5,10,15,20,25,30,35,40,45,50],"labelExpr":"datum.value % 10 === 0 ? datum.label : ''","tickSize":6,"tickDash":{"condition":{"test":"datum.value % 10 === 0","value":[6,0]},"value":[3,10]},"labelPadding":4,"title":"Time (hours)","titleFontSize":16,"titlePadding":16,"format":"d"}},
     "y":{"field":"v","type":"quantitative","scale":{"domain":[-10,400],"nice":false,"zero":false},"axis":{"orient":"left","values":[0,50,100,150,200,250,300,350,400],"labelExpr":"datum.value % 100 === 0 ? datum.label : ''","tickSize":7,"tickDash":{"condition":{"test":"datum.value % 100 === 0","value":[7,0]},"value":[4,10]},"labelPadding":4,"title":"PTR-MS (ppbv)","titlePadding":12,"format":"d"}}}},
   {"data":{"name":"eth"},"mark":{"type":"line","strokeOpacity":0},
    "encoding":{
     "x":{"field":"t","type":"quantitative","axis":{"orient":"top","values":[0,5,10,15,20,25,30,35,40,45,50],"labels":false,"domain":false,"title":null,"tickSize":-6,"tickDash":{"condition":{"test":"datum.value % 10 === 0","value":[6,0]},"value":[3,10]}}},
     "y":{"field":"v","type":"quantitative","scale":{"domain":[-10,400],"nice":false,"zero":false},"axis":{"orient":"right","values":[0,50,100,150,200,250,300,350,400],"labels":false,"tickSize":-6,"tickDash":{"condition":{"test":"datum.value % 100 === 0","value":[6,0]},"value":[3,10]},"title":null}}}},
   {"data":{"values":[{}]},"mark":{"type":"text","text":"ethanol","align":"left","baseline":"middle","fontSize":18,"color":"#000"},"encoding":{"x":{"datum":23.5,"axis":null},"y":{"datum":359,"axis":null,"scale":{"domain":[-10,400],"nice":false,"zero":false}}}},
   {"data":{"values":[{}]},"mark":{"type":"rule","color":"#888","strokeWidth":1},"encoding":{"x":{"datum":23.5,"axis":null},"x2":{"datum":28.7},"y":{"datum":336,"axis":null,"scale":{"domain":[-10,400],"nice":false,"zero":false}}}},
   {"data":{"values":[{}]},"mark":{"type":"text","text":"PTR-MS (ppbv)","align":"left","baseline":"middle","fontSize":18,"color":"#000"},"encoding":{"x":{"datum":29.5,"axis":null},"y":{"datum":336,"axis":null,"scale":{"domain":[-10,400],"nice":false,"zero":false}}}}
  ],
  "resolve":{"scale":{"y":"independent"},"axis":{"x":"independent"}}
 }
]
}
